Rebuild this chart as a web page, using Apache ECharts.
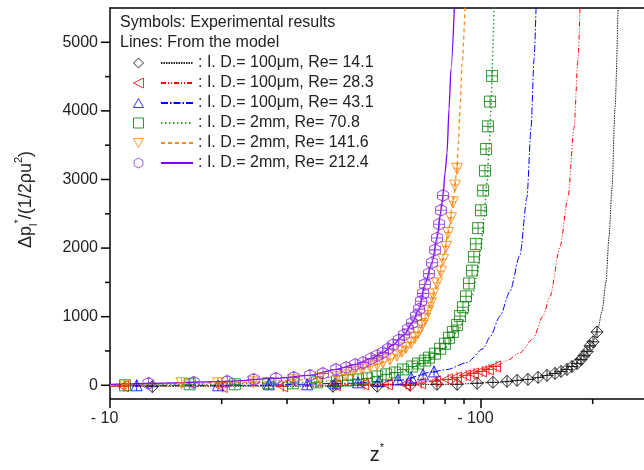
<!DOCTYPE html>
<html><head><meta charset="utf-8">
<script src="https://cdn.jsdelivr.net/npm/echarts@6/dist/echarts.min.js"></script>
<style>html,body{margin:0;padding:0;background:#fff}#c{width:644px;height:470px}</style>
</head><body><div id="c"></div><script>
const FONT = '"Liberation Sans", Arial, sans-serif';

// ---- data (z* magnitude on log axis, Δp value) ----
const blackExpZ = [13.0, 39.9, 52.5, 64.4, 76.1, 86.2, 97.6, 107.7, 117.5, 125.1, 133.8, 142.5, 150.6, 158.3, 164.3, 170.5, 175.9, 181.5, 186.0, 189.5, 193.1, 196.7, 200.4, 205.5];
const blackExpV = [-20, -14, -14, 0, 14, 14, 29, 43, 58, 72, 86, 115, 144, 173, 202, 231, 274, 317, 375, 432, 490, 576, 634, 778];
const blackLineZ = [10, 32.5, 82.5, 112.5, 135.6, 158.3, 175.9, 189.5, 200.4, 206.8, 211.9, 217.3, 221.3, 225.5, 229.7, 234.3];
const blackLineV = [-14, -14, 14, 43, 86, 173, 274, 432, 634, 836, 1081, 1513, 2161, 2882, 4035, 5600];

const redExpZ = [10.84, 20.0, 29.1, 40.4, 48.1, 55.8, 62.4, 68.5, 75.2, 81.0, 85.6, 90.6, 95.1, 100, 104.4, 109.1];
const redExpV = [-15, -25, -15, 0, 14, 14, 14, 29, 58, 86, 115, 144, 173, 202, 231, 274];
const redLineZ = [10, 32.5, 60.5, 82.5, 99.4, 110.4, 117.5, 127.4, 138.1, 146.9, 153.5, 163.3, 171.6, 178.1, 182.6, 185.1];
const redLineV = [-14, 0, 14, 86, 202, 288, 360, 475, 677, 1009, 1297, 2017, 2738, 3747, 4755, 5600];

const blueExpZ = [11.8, 19.55, 26.8, 34.0, 40.4, 46.6, 53.1, 59.7, 64.8, 69.8, 74.7];
const blueExpV = [0, 0, 14, 14, 29, 43, 58, 86, 115, 159, 202];
const blueLineZ = [10, 23.9, 44.4, 60.5, 74.7, 81.0, 91.7, 101.3, 105.8, 112.5, 119.7, 127.4, 133.0, 136.4, 139.0, 140.9];
const blueLineV = [0, 0, 29, 72, 200, 230, 331, 533, 706, 1009, 1369, 1902, 2738, 3747, 4755, 5600];

const greenExpZ = [10.98, 16.4, 21.7, 26.7, 31.1, 36.1, 40.9, 43.8, 46.6, 49.3, 52.5, 55.5, 58.6, 61.6, 65.2, 67.7, 70.7, 72.4, 75.2, 77.6, 80.0, 82.0, 84.0, 86.2, 87.8, 89.4, 91.1, 92.8, 94.6, 95.7, 96.9, 98.2, 100, 101.3, 102.5, 103.2, 104.4, 105.8, 107.1];
const greenExpV = [0, 14, 14, 29, 29, 43, 58, 72, 86, 101, 130, 159, 187, 231, 274, 317, 360, 403, 461, 533, 605, 692, 778, 879, 1009, 1138, 1297, 1484, 1672, 1873, 2061, 2291, 2551, 2839, 3127, 3444, 3775, 4136, 4510];
const greenLineZ = [10, 17.5, 32.5, 47.2, 60.5, 70.7, 80.0, 86.7, 91.1, 94.6, 97.6, 100, 101.9, 103.8, 105.1, 106.4, 107.1, 107.7, 108.5];
const greenLineV = [0, 14, 43, 86, 187, 331, 548, 793, 1009, 1297, 1614, 2017, 2450, 2954, 3458, 4035, 4510, 4971, 5600];

const orangeExpZ = [10.98, 15.6, 19.55, 24.3, 31.1, 36.8, 40.9, 43.0, 45.2, 47.8, 50.2, 52.5, 54.4, 56.9, 59.4, 61.2, 62.8, 64.8, 66.4, 67.7, 69.3, 70.7, 72.0, 73.3, 74.3, 76.1, 78.0, 79.0, 80.5, 81.5, 83.0, 84.0, 85.1, 86.2];
const orangeExpV = [0, 29, 29, 43, 72, 101, 115, 144, 187, 231, 274, 303, 331, 375, 432, 490, 548, 620, 692, 764, 865, 965, 1081, 1196, 1326, 1484, 1657, 1830, 2017, 2219, 2435, 2666, 2911, 3156];
const orangeLineZ = [10, 15.6, 24.3, 31.1, 36.8, 43.0, 47.8, 52.5, 56.9, 61.2, 64.8, 67.7, 70.7, 73.3, 76.1, 79.0, 81.5, 84.0, 86.2, 86.7, 87.8, 88.9, 90.7];
const orangeLineV = [0, 29, 43, 72, 101, 144, 231, 303, 375, 490, 620, 764, 965, 1196, 1484, 1830, 2219, 2666, 3156, 3430, 4035, 4683, 5600];

const purpleExpZ = [12.7, 16.8, 20.7, 24.4, 28.0, 31.3, 34.6, 37.5, 40.7, 43.3, 45.8, 48.1, 50.5, 52.5, 54.4, 56.2, 57.9, 60.1, 62.0, 63.6, 65.2, 66.8, 68.1, 68.9, 69.8, 70.6, 72.4, 73.8, 75.2, 76.1, 77.1, 78.0, 79.0];
const purpleExpV = [29, 43, 58, 86, 101, 115, 144, 173, 231, 259, 303, 331, 389, 432, 476, 533, 591, 663, 735, 821, 908, 1009, 1110, 1225, 1340, 1470, 1628, 1787, 1974, 2147, 2349, 2551, 2767];
const purpleLineZ = [10, 12.7, 20.7, 28.0, 34.6, 40.7, 45.8, 50.5, 54.4, 57.9, 62.0, 65.2, 68.1, 70.6, 73.8, 76.1, 78.0, 79.0, 80.0, 81.0, 82.0, 83.0, 84.9];
const purpleLineV = [14, 29, 58, 101, 144, 231, 303, 389, 476, 591, 735, 908, 1110, 1470, 1787, 2147, 2551, 2767, 3098, 3386, 4035, 4611, 5600];

const lineNames = [': I. D.= 100μm, Re= 14.1', ': I. D.= 100μm, Re= 28.3', ': I. D.= 100μm, Re= 43.1', ': I. D.= 2mm, Re= 70.8', ': I. D.= 2mm, Re= 141.6', ': I. D.= 2mm, Re= 212.4'];
const expNames = ['exp Re 14.1', 'exp Re 28.3', 'exp Re 43.1', 'exp Re 70.8', 'exp Re 141.6', 'exp Re 212.4'];
const xMajorLabels = {10: '- 10', 100: '- 100'};
const xMajorTicks = [10, 100];
const xMinorTicks = [20, 30, 40, 50, 60, 70, 80, 90, 200];
const yMajorTicks = [0, 1000, 2000, 3000, 4000, 5000];
const yMinorTicks = [500, 1500, 2500, 3500, 4500];

// ---- styles ----
const markerColors = ['#000000', '#ff0000', '#0000ff', '#008000', '#ff8000', '#8a2be2'];
const lineColors = ['#222222', '#ff0000', '#0000ff', '#2e9e2e', '#ff8c1a', '#7f00ff'];
const lineDash = [[1.5, 1], [5, 2, 1, 2, 1, 2], [7, 2, 1.5, 2], [1.5, 2.5], [4, 3], 'solid'];
const lineWidths = [1, 1, 1, 1.5, 1.3, 1.3];
const symPaths = [
  'path://M0,-6L6,0L0,6L-6,0Z M0,-6V6 M-6,0H6',
  'path://M-5,0L5,-5L5,5Z M1,-5V5 M-5,0H5',
  'path://M0,-5L5,4L-5,4Z M0,-5V4 M-3,0H3',
  'path://M-5,-5H5V5H-5Z M0,-5V5 M-5,0H5',
  'path://M-5,-4H5L0,5Z M0,-4V5 M-3,0H3',
  'path://M0,-6L5.2,-3V3L0,6L-5.2,3V-3Z M0,-6V6 M-5.2,0H5.2'
];
const legendPaths = [
  'path://M0,-6L6,0L0,6L-6,0Z',
  'path://M-5,0L5,-5L5,5Z',
  'path://M0,-5L5,4L-5,4Z',
  'path://M-5,-5H5V5H-5Z',
  'path://M-5,-4H5L0,5Z',
  'path://M0,-6L5.2,-3V3L0,6L-5.2,3V-3Z'
];
const symSizes = [[12, 12], [11, 11], [11, 11], [11, 11], [11, 11], [11, 12]];

const expZ = [blackExpZ, redExpZ, blueExpZ, greenExpZ, orangeExpZ, purpleExpZ];
const expV = [blackExpV, redExpV, blueExpV, greenExpV, orangeExpV, purpleExpV];
const lnZ = [blackLineZ, redLineZ, blueLineZ, greenLineZ, orangeLineZ, purpleLineZ];
const lnV = [blackLineV, redLineV, blueLineV, greenLineV, orangeLineV, purpleLineV];
const zip = (a, b) => a.map((v, i) => [v, b[i]]);

const Y_MIN = -200, Y_MAX = 5500, X_MIN = 10, X_MAX = 275;

const series = [];
for (let i = 0; i < 6; i++) {
  series.push({
    name: lineNames[i], type: 'line', data: zip(lnZ[i], lnV[i]), symbol: 'none',
    smooth: 0.25, smoothMonotone: 'x', z: 2 + i * 0.01,
    lineStyle: {color: lineColors[i], width: lineWidths[i], type: lineDash[i]},
    itemStyle: {color: lineColors[i]}, emphasis: {disabled: true}, animation: false
  });
}
for (let i = 0; i < 6; i++) {
  series.push({
    name: expNames[i], type: 'scatter', data: zip(expZ[i], expV[i]),
    symbol: symPaths[i], symbolSize: symSizes[i], z: 3 + i * 0.01,
    itemStyle: {color: 'transparent', borderColor: markerColors[i], borderWidth: 1},
    emphasis: {disabled: true}, animation: false
  });
}
// tick marks drawn through the axes' own scales
function tickSeries(data, horizontal, len) {
  return {
    type: 'custom', data: data, z: 5, silent: true, clip: false, animation: false,
    renderItem: (params, api) => {
      const p = api.coord([api.value(0), api.value(1)]);
      const shape = horizontal
        ? {x1: p[0], y1: p[1], x2: p[0], y2: p[1] + len}
        : {x1: p[0] - len, y1: p[1], x2: p[0], y2: p[1]};
      return {type: 'line', shape: shape, style: {stroke: '#000', lineWidth: 1.5}};
    }
  };
}
series.push(tickSeries(xMajorTicks.map(v => [v, Y_MIN]), true, 9));
series.push(tickSeries(xMinorTicks.map(v => [v, Y_MIN]), true, 5));
series.push(tickSeries(yMajorTicks.map(v => [X_MIN, v]), false, 9));
series.push(tickSeries(yMinorTicks.map(v => [X_MIN, v]), false, 5));

const option = {
  backgroundColor: '#fff',
  animation: false,
  textStyle: {fontFamily: FONT},
  grid: {left: 110, top: 8, right: 0, bottom: 66, show: false, containLabel: false},
  xAxis: [{
    type: 'log', logBase: 10, min: X_MIN, max: X_MAX,
    axisLine: {show: true, onZero: false, lineStyle: {color: '#000', width: 1.5}},
    axisTick: {show: false}, minorTick: {show: false}, splitLine: {show: false},
    axisLabel: {fontSize: 16, color: '#222', fontFamily: FONT, margin: 12, padding: [0, 11, 0, 0],
      formatter: v => xMajorLabels[Math.round(v)] || '', showMaxLabel: false},
    name: '{z|z}{s|*}', nameLocation: 'middle', nameGap: 43,
    nameTextStyle: {rich: {
      z: {fontSize: 20, fontFamily: FONT, color: '#222', lineHeight: 26},
      s: {fontSize: 11, fontFamily: FONT, color: '#222', verticalAlign: 'top', lineHeight: 14}
    }}
  }, {
    type: 'log', logBase: 10, min: X_MIN, max: X_MAX, position: 'top',
    axisLine: {show: true, onZero: false, lineStyle: {color: '#000', width: 1.5}},
    axisTick: {show: false}, axisLabel: {show: false}, splitLine: {show: false}
  }],
  yAxis: {
    type: 'value', min: Y_MIN, max: Y_MAX, interval: 100,
    axisLine: {show: true, onZero: false, lineStyle: {color: '#000', width: 1.5}},
    axisTick: {show: false}, minorTick: {show: false},
    splitLine: {show: false},
    axisLabel: {fontSize: 16, color: '#222', fontFamily: FONT, margin: 12,
      formatter: v => (Math.abs(Math.round(v) % 1000) === 0 && Math.round(v) >= 0 ? String(Math.round(v)) : '')},
    name: '{a|Δp}{sub|l}{sup|*}{a|/(1/2ρu}{sup|2}{a|)}', nameLocation: 'middle', nameRotate: 90, nameGap: 71,
    nameTextStyle: {padding: [0, 0, 0, 8], rich: {
      a: {fontSize: 18, fontFamily: FONT, color: '#222', lineHeight: 26},
      sub: {fontSize: 11, fontFamily: FONT, color: '#222', verticalAlign: 'bottom', lineHeight: 14},
      sup: {fontSize: 11, fontFamily: FONT, color: '#222', verticalAlign: 'top', lineHeight: 14}
    }}
  },
  legend: [
    {id: 'sym', orient: 'vertical', left: 133, top: 55, padding: 0, itemWidth: 10, itemHeight: 10, itemGap: 4,
      selectedMode: false, formatter: () => ' ', textStyle: {fontSize: 16, fontFamily: FONT},
      data: expNames.map((n, i) => ({name: n, icon: legendPaths[i],
        itemStyle: {color: 'transparent', borderColor: markerColors[i], borderWidth: 1}}))},
    {id: 'ln', orient: 'vertical', left: 160, top: 55, padding: 0, itemWidth: 32, itemHeight: 12, itemGap: 4,
      selectedMode: false, textStyle: {fontSize: 16, color: '#222', fontFamily: FONT},
      itemStyle: {color: 'transparent', borderColor: 'transparent', borderWidth: 0},
      data: lineNames}
  ],
  graphic: [
    {type: 'text', left: 120, top: 15, style: {text: 'Symbols: Experimental results', font: '16px ' + FONT, fill: '#222'}},
    {type: 'text', left: 120, top: 35, style: {text: 'Lines: From the model', font: '16px ' + FONT, fill: '#222'}}
  ],
  series: series
};
const chart = echarts.init(document.getElementById('c'), null, {renderer: 'canvas'});
chart.setOption(option);
</script></body></html>
